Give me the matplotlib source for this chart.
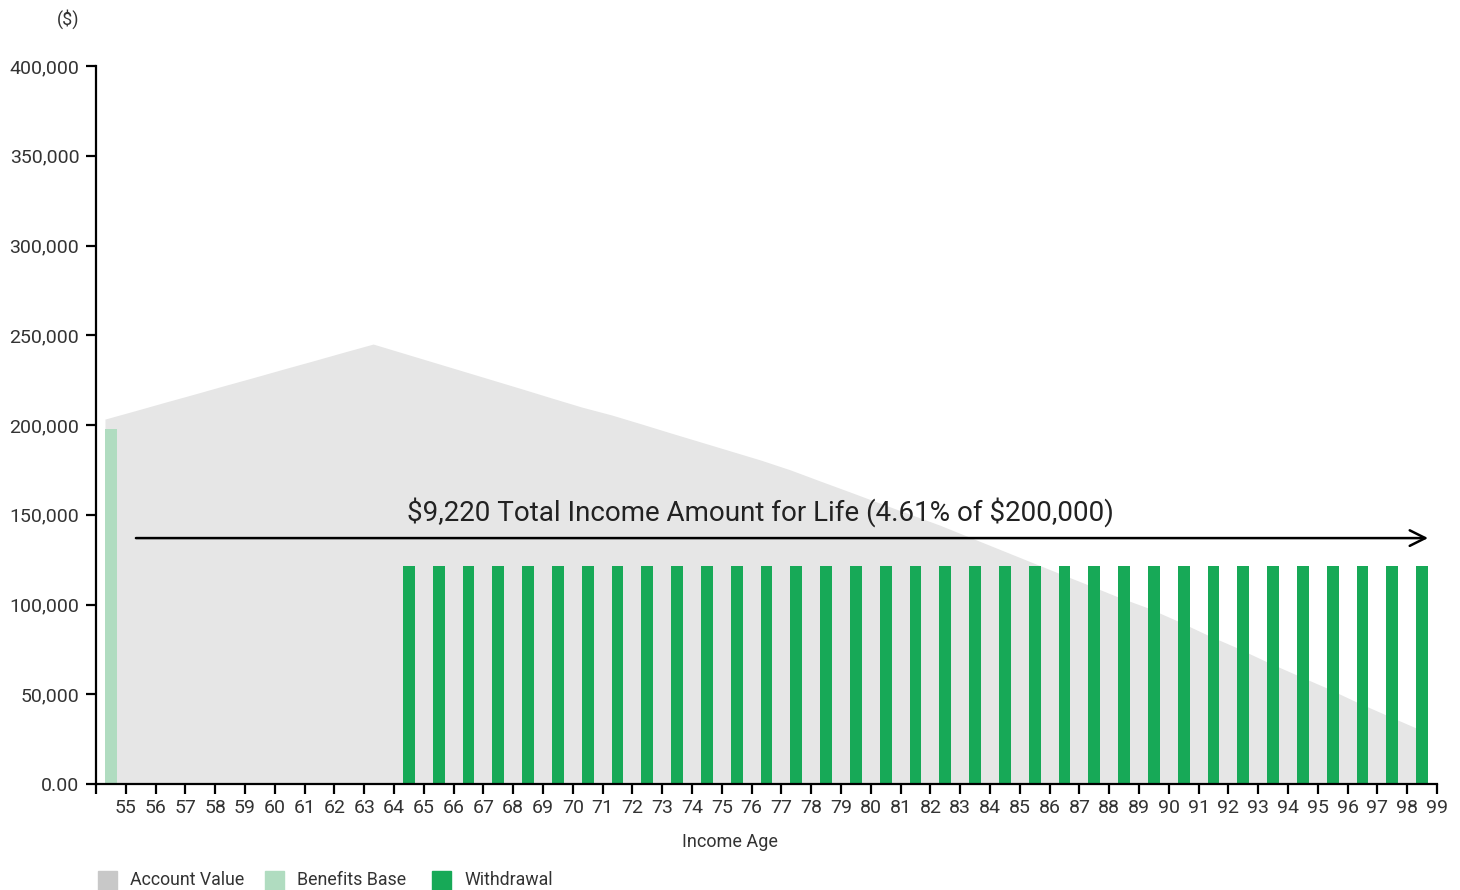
from matplotlib import pyplot as plt
from matplotlib.patches import Rectangle
import numpy as np

# ages 55..99
ages = list(range(55, 100))

# account value, one value per age
account_value = [
    203300, 207900, 212600, 217200, 221900, 226500, 231200, 235800, 240500, 245100,
    240100, 235100, 230100, 225100, 220100, 215000, 210000, 205600, 200600, 195500,
    190500, 185500, 180500, 175000, 168800, 162700, 156500, 150400, 144300, 137600,
    130900, 124200, 117500, 110900, 104200, 98100, 90800, 83000, 75800, 68000,
    60700, 53500, 45700, 38400, 31200,
]

# benefits base only shown at age 55
benefits_base = [198000] + [0] * 44

# withdrawals start at 65
withdrawal = [0] * 10 + [121500] * 35

y_ticks = [0, 50000, 100000, 150000, 200000, 250000, 300000, 350000, 400000]
y_tick_labels = ["0.00", "50,000", "100,000", "150,000", "200,000",
                 "250,000", "300,000", "350,000", "400,000"]

legend_labels = ["Account Value", "Benefits Base", "Withdrawal"]

income_text = r"\$9,220 Total Income Amount for Life (4.61% of \$200,000)"

c_area = "#e6e6e6"
c_area_legend = "#c8c8c8"
c_base = "#b0dcc0"
c_withdraw = "#17a957"
c_text = "#333333"

W, H = 1460, 890


def main():
    plt.rcParams["font.family"] = ["Roboto", "DejaVu Sans"]

    fig = plt.figure(figsize=(W / 100, H / 100), dpi=100)
    ax = fig.add_axes([96 / W, 1 - 784 / H, (1437 - 96) / W, (784 - 66) / H])

    idx = np.arange(len(ages))
    bar_w = 0.4

    # area points sit at the left edge of each bar
    ax.fill_between(idx - bar_w / 2, account_value, 0, color=c_area, linewidth=0, zorder=1)

    wd = np.array(withdrawal)
    bb = np.array(benefits_base)
    ax.bar(idx[bb > 0], bb[bb > 0], width=bar_w, color=c_base, zorder=2)
    ax.bar(idx[wd > 0], wd[wd > 0], width=bar_w, color=c_withdraw, zorder=2)

    ax.annotate("", xy=(44.2, 137000), xytext=(0.84, 137000),
                arrowprops=dict(arrowstyle="->", color="black", lw=1.8,
                                mutation_scale=28, shrinkA=0, shrinkB=0),
                zorder=3)
    ax.text(21.8, 151500, income_text, ha="center", va="center",
            fontsize=20, color="#222222", zorder=3)

    ax.set_xlim(-0.5, len(ages) - 0.5)
    ax.set_ylim(0, 400000)

    ax.set_xticks(np.arange(-0.5, len(ages), 1.0))
    ax.set_xticklabels([""] + [str(a) for a in ages])
    ax.set_yticks(y_ticks)
    ax.set_yticklabels(y_tick_labels)

    for side in ["top", "right"]:
        ax.spines[side].set_visible(False)
    for side in ["left", "bottom"]:
        ax.spines[side].set_linewidth(1.6)
    ax.tick_params(axis="both", direction="out", length=7, width=1.6,
                   labelsize=14, labelcolor=c_text)
    ax.tick_params(axis="y", pad=5)
    ax.tick_params(axis="x", pad=4)

    fig.text(68 / W, 1 - 19 / H, r"(\$)", ha="center", va="center",
             fontsize=13, color=c_text)
    fig.text(730 / W, 1 - 842 / H, "Income Age", ha="center", va="center",
             fontsize=13, color=c_text)

    # legend along the bottom edge
    swatch_x = [98, 265, 432]
    swatch_c = [c_area_legend, c_base, c_withdraw]
    for sx, sc, lab in zip(swatch_x, swatch_c, legend_labels):
        fig.patches.append(Rectangle((sx / W, 1 - 890 / H), 19 / W, 19 / H,
                                     transform=fig.transFigure, color=sc))
        fig.text((sx + 32) / W, 1 - 880 / H, lab, ha="left", va="center",
                 fontsize=12.8, color=c_text)

    fig.savefig("out.png", dpi=100)


if __name__ == "__main__":
    main()
